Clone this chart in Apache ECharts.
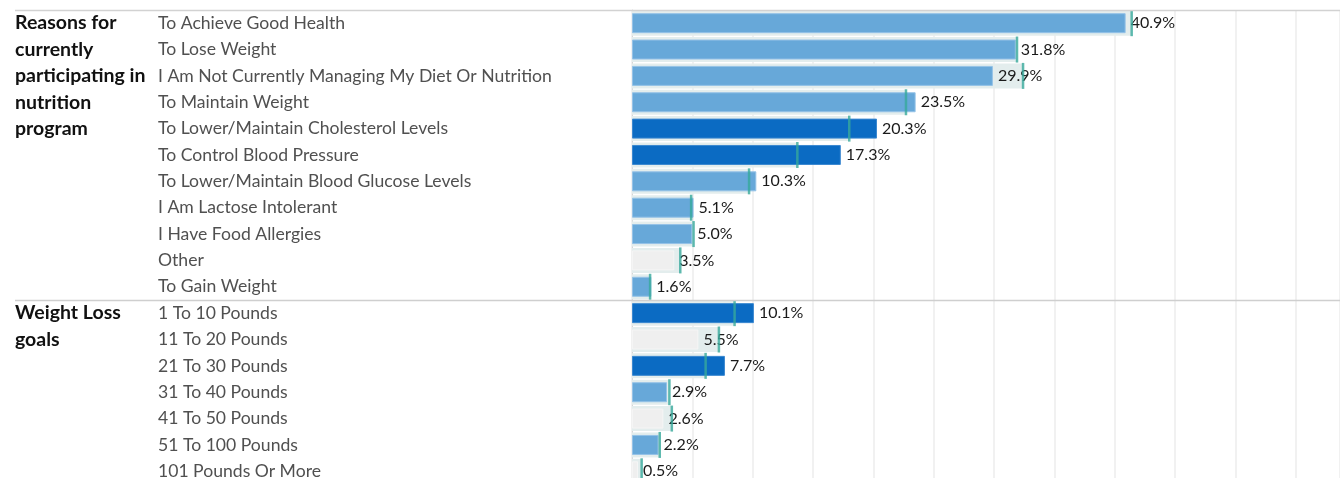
<!DOCTYPE html>
<html>
<head>
<meta charset="utf-8">
<script src="https://cdn.jsdelivr.net/npm/echarts@6/dist/echarts.min.js"></script>
<style>
  html, body { margin: 0; padding: 0; background: #ffffff; overflow: hidden; }
  /* the weight-loss section continues a little below the visible edge */
  #chart { width: 1340px; height: 486px; }
</style>
</head>
<body>
<div id="chart"></div>
<script>
// Section 1: reasons for currently participating in a nutrition program
const reasonCategories = [
  'To Achieve Good Health',
  'To Lose Weight',
  'I Am Not Currently Managing My Diet Or Nutrition',
  'To Maintain Weight',
  'To Lower/Maintain Cholesterol Levels',
  'To Control Blood Pressure',
  'To Lower/Maintain Blood Glucose Levels',
  'I Am Lactose Intolerant',
  'I Have Food Allergies',
  'Other',
  'To Gain Weight'
];
const reasonValues = [40.9, 31.8, 29.9, 23.5, 20.3, 17.3, 10.3, 5.1, 5.0, 3.5, 1.6];
const reasonBenchmarks = [41.4, 31.9, 32.4, 22.7, 18.0, 13.7, 9.7, 4.9, 5.1, 4.0, 1.5];
const reasonSignificance = ['same', 'same', 'same', 'same', 'high', 'high', 'same', 'same', 'same', 'low', 'same'];

// Section 2: weight loss goals
const goalCategories = [
  '1 To 10 Pounds',
  '11 To 20 Pounds',
  '21 To 30 Pounds',
  '31 To 40 Pounds',
  '41 To 50 Pounds',
  '51 To 100 Pounds',
  '101 Pounds Or More'
];
const goalValues = [10.1, 5.5, 7.7, 2.9, 2.6, 2.2, 0.5];
const goalBenchmarks = [8.5, 7.2, 6.1, 3.1, 3.3, 2.3, 0.8];
const goalSignificance = ['high', 'low', 'high', 'same', 'low', 'same', 'low'];

const sectionTitles = ['Reasons for\ncurrently\nparticipating in\nnutrition\nprogram', 'Weight Loss\ngoals'];

// Layout constants
const FONT = 'Lato, "Open Sans", sans-serif';
const ROW = 26.36;
const PLOT_LEFT = 632;
const TOP1 = 10;
const TOP2 = TOP1 + reasonCategories.length * ROW;
const X_MAX = 58.66;

const palette = {
  high: { fill: '#0b6bc3', border: '#3b88d0' },
  same: { fill: '#67a8d9', border: '#94c2e7' },
  low:  { fill: '#efefef', border: '#f5f5f5' }
};
const bandColor = '#e3eded';
const benchmarkColor = '#37a99b';

function barData(values, sig) {
  return values.map((v, i) => ({
    value: v,
    itemStyle: { color: palette[sig[i]].fill, borderColor: palette[sig[i]].border, borderWidth: 1 }
  }));
}

function makeYAxes(cats, gridIndex) {
  return [
    {
      type: 'category', gridIndex, data: cats, inverse: true,
      axisTick: { show: false },
      axisLine: { show: true, lineStyle: { color: '#d6d6d6', width: 1 } },
      axisLabel: {
        align: 'left', margin: PLOT_LEFT - 158,
        color: '#505050', fontSize: 17.6, fontFamily: FONT
      },
      splitLine: { show: false }
    },
    {
      type: 'category', gridIndex, data: cats, inverse: true,
      show: false
    }
  ];
}

function makeXAxis(gridIndex) {
  return {
    type: 'value', gridIndex, min: 0, max: X_MAX, interval: 5,
    axisLabel: { show: false }, axisTick: { show: false }, axisLine: { show: false },
    splitLine: { show: true, lineStyle: { color: '#ececec', width: 1.5 } }
  };
}

function makeSeries(values, benchmarks, sig, axisBase, gridIndex) {
  return [
    {
      type: 'bar', xAxisIndex: gridIndex, yAxisIndex: axisBase + 1,
      data: benchmarks, barWidth: 25, silent: true,
      itemStyle: { color: bandColor }, z: 1
    },
    {
      type: 'bar', xAxisIndex: gridIndex, yAxisIndex: axisBase,
      data: barData(values, sig), barWidth: 20, z: 2,
      label: {
        show: true, position: 'right', distance: 5,
        color: '#1a1a1a', fontSize: 16, fontFamily: FONT,
        formatter: p => p.value.toFixed(1) + '%'
      }
    },
    {
      type: 'scatter', xAxisIndex: gridIndex, yAxisIndex: axisBase,
      data: benchmarks.map((b, i) => [b, i]),
      symbol: 'rect', symbolSize: [2.5, 26], z: 3, silent: true,
      itemStyle: { color: benchmarkColor }
    }
  ];
}

const chart = echarts.init(document.getElementById('chart'), null, { renderer: 'canvas' });

chart.setOption({
  animation: false,
  backgroundColor: '#ffffff',
  grid: [
    { left: PLOT_LEFT, right: 0, top: TOP1, height: reasonCategories.length * ROW },
    { left: PLOT_LEFT, right: 0, top: TOP2, height: goalCategories.length * ROW }
  ],
  xAxis: [makeXAxis(0), makeXAxis(1)],
  yAxis: [...makeYAxes(reasonCategories, 0), ...makeYAxes(goalCategories, 1)],
  series: [
    ...makeSeries(reasonValues, reasonBenchmarks, reasonSignificance, 0, 0),
    ...makeSeries(goalValues, goalBenchmarks, goalSignificance, 2, 1)
  ],
  graphic: [
    {
      type: 'line', z: 10, silent: true,
      shape: { x1: 15, y1: TOP1 + 0.5, x2: 1340, y2: TOP1 + 0.5 },
      style: { stroke: '#d2d2d2', lineWidth: 1.5 }
    },
    {
      type: 'line', z: 10, silent: true,
      shape: { x1: 15, y1: TOP2 + 0.5, x2: 1340, y2: TOP2 + 0.5 },
      style: { stroke: '#cfcfcf', lineWidth: 1.5 }
    },
    {
      type: 'text', left: 15, top: TOP1, silent: true,
      style: {
        text: sectionTitles[0], fill: '#111111', fontSize: 19.5, fontWeight: 'bold',
        fontFamily: FONT, lineHeight: ROW
      }
    },
    {
      type: 'text', left: 15, top: TOP2, silent: true,
      style: {
        text: sectionTitles[1], fill: '#111111', fontSize: 19.5, fontWeight: 'bold',
        fontFamily: FONT, lineHeight: ROW
      }
    }
  ]
});
</script>
</body>
</html>
